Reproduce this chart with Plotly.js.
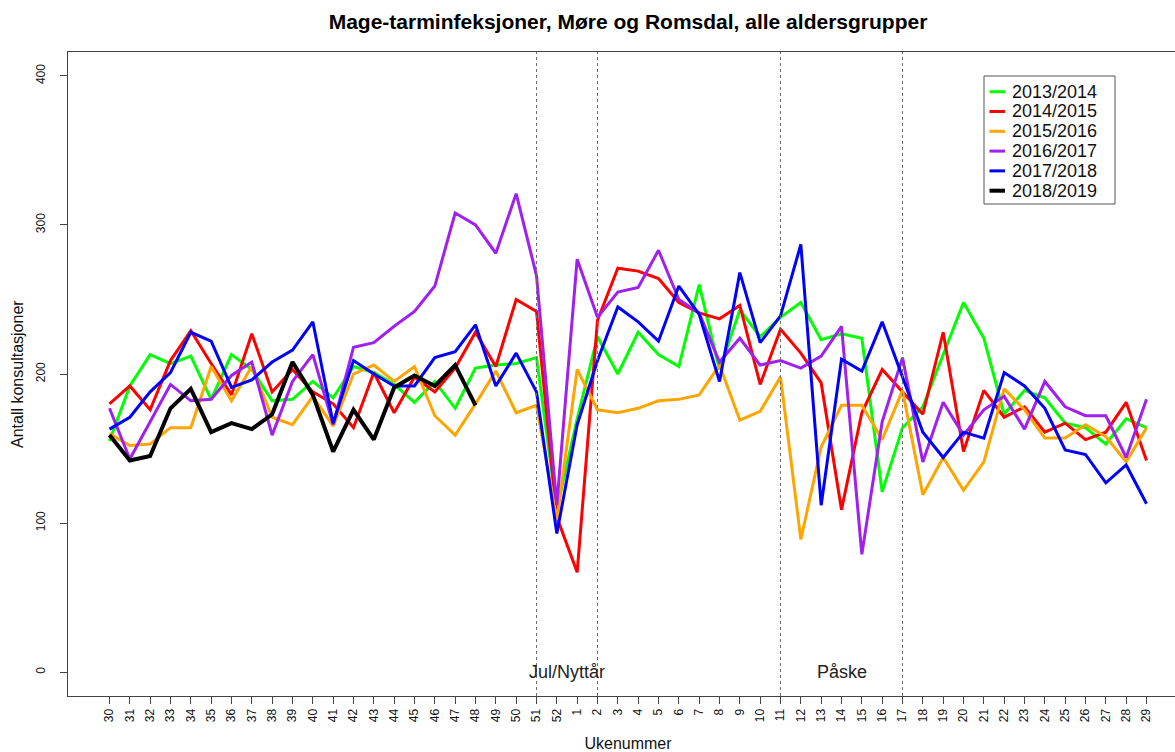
<!DOCTYPE html>
<html>
<head>
<meta charset="utf-8">
<script src="https://cdn.plot.ly/plotly-3.0.1.min.js"></script>
<style>
html, body { margin:0; padding:0; overflow:hidden; background:#fff; }
#chart { width:1200px; height:752px; }
</style>
</head>
<body>
<div id="chart"></div>
<script>
// Week labels (season runs from week 30 to week 29 next year)
const weeks = ["30","31","32","33","34","35","36","37","38","39","40","41","42","43","44","45","46","47","48","49","50","51","52",
               "1","2","3","4","5","6","7","8","9","10","11","12","13","14","15","16","17","18","19","20","21","22","23","24","25","26","27","28","29"];

const seasonNames = ["2013/2014","2014/2015","2015/2016","2016/2017","2017/2018","2018/2019"];
const seasonColors = ["#00FF00","#FF0000","#FFA500","#A020F0","#0000FF","#000000"];

const s2013 = [155,192,213,207,212,183,213,203,182,183,195,184,205,201,193,181,195,177,204,206,207,211,109,
               170,225,200,228,213,205,260,203,243,225,238,248,223,227,224,121,164,178,213,248,224,173,189,184,167,164,153,170,164];
const s2014 = [180,192,176,209,229,207,186,227,188,203,188,180,164,201,174,198,188,204,228,205,250,242,104,
               67,236,271,269,264,248,241,237,246,193,230,214,194,109,174,203,188,173,228,148,189,171,178,161,167,156,161,181,142];
const s2015 = [160,152,153,164,164,205,182,205,171,166,185,165,200,206,195,205,172,159,180,202,174,179,102,
               203,176,174,177,182,183,186,206,169,175,198,89,151,179,179,156,189,119,144,122,141,190,176,157,157,166,158,141,164];
const s2016 = [177,143,168,193,182,183,199,208,159,195,213,166,218,221,232,242,259,308,300,281,321,266,112,
               277,238,255,258,283,250,241,208,224,206,209,204,212,232,79,168,211,141,181,159,176,185,163,195,178,172,172,144,183];
const s2017 = [163,171,188,201,228,222,191,196,208,216,235,167,209,200,192,192,211,215,233,192,214,188,93,
               166,209,245,235,222,259,240,195,268,221,239,287,112,210,202,235,198,161,144,161,157,201,192,177,149,146,127,139,113];
const s2018 = [159,142,145,177,190,161,167,163,173,208,186,148,176,156,191,199,192,206,179];

const seasonValues = [s2013, s2014, s2015, s2016, s2017, s2018];
const lineWidths = [3,3,3,3,3,4];

// Holiday periods (dashed lines) and labels
const holidayWeeks = ["51","2","11","17"];
const holidayLabels = [{text:"Jul/Nyttår", from:"51", to:"2"}, {text:"Påske", from:"11", to:"17"}];
const yTicks = [0,100,200,300,400];

const FONT = "Liberation Sans, Arial, Helvetica, sans-serif";

const traces = seasonValues.map((vals, k) => ({
  type: "scatter",
  mode: "lines",
  x: weeks.slice(0, vals.length),
  y: vals,
  name: seasonNames[k],
  line: {color: seasonColors[k], width: lineWidths[k]},
  showlegend: false,
  hoverinfo: "skip"
}));

// geometry helpers for the hand-built legend (paper coords)
const L = 68, R = 12, T = 52, B = 56, W = 1200, H = 752;
const pw = W - L - R, ph = H - T - B;
const px = v => (v - L) / pw;
const py = v => (H - B - v) / ph;

const shapes = holidayWeeks.map(w => ({
  type: "line", xref: "x", yref: "paper",
  x0: weeks.indexOf(w), x1: weeks.indexOf(w), y0: 0, y1: 1,
  line: {color: "#6e6e6e", width: 1, dash: "3px,3px"},
  layer: "above"
}));

const annotations = holidayLabels.map(h => ({
  xref: "x", yref: "y",
  x: (weeks.indexOf(h.from) + weeks.indexOf(h.to)) / 2, y: 0,
  text: h.text, showarrow: false,
  font: {family: FONT, size: 18, color: "#222"},
  xanchor: "center", yanchor: "middle"
}));

// y-axis title
annotations.push({
  xref: "paper", yref: "paper", x: px(17), y: 0.5,
  text: "Antall konsultasjoner", textangle: -90, showarrow: false,
  xanchor: "center", yanchor: "middle",
  font: {family: FONT, size: 16, color: "#111"}
});

// legend box
shapes.push({
  type: "rect", xref: "paper", yref: "paper",
  x0: px(984), x1: px(1115), y0: py(204), y1: py(76),
  line: {color: "#555", width: 1}, fillcolor: "rgba(255,255,255,1)", layer: "above"
});
seasonNames.forEach((n, k) => {
  const yc = 91.7 + k * 19.8;
  shapes.push({
    type: "line", xref: "paper", yref: "paper",
    x0: px(989.5), x1: px(1005), y0: py(yc), y1: py(yc),
    line: {color: seasonColors[k], width: lineWidths[k]}, layer: "above"
  });
  annotations.push({
    xref: "paper", yref: "paper", x: px(1010), y: py(yc),
    text: n, showarrow: false, xanchor: "left", yanchor: "middle",
    font: {family: FONT, size: 18, color: "#111"}
  });
});

const layout = {
  width: W, height: H,
  margin: {l: L, r: R, t: T, b: B, pad: 0},
  paper_bgcolor: "#fff", plot_bgcolor: "#fff",
  font: {family: FONT, color: "#111"},
  title: {
    text: "<b>Mage-tarminfeksjoner, Møre og Romsdal, alle aldersgrupper</b>",
    font: {family: FONT, size: 21, color: "#000"},
    xref: "paper", x: 0.5, xanchor: "center",
    yref: "container", y: 1 - 22 / H, yanchor: "middle"
  },
  xaxis: {
    type: "category", categoryorder: "array", categoryarray: weeks,
    range: [-2.04, 53.04], autorange: false,
    tickmode: "array", tickvals: weeks, ticktext: weeks,
    tickangle: -90, ticks: "outside", ticklen: 7, tickcolor: "#444", tickwidth: 1,
    tickfont: {family: FONT, size: 12, color: "#111"},
    showline: true, linecolor: "#444", linewidth: 1, mirror: true,
    showgrid: false, zeroline: false, automargin: false,
    title: {text: "Ukenummer", font: {family: FONT, size: 16, color: "#111"}, standoff: 19}
  },
  yaxis: {
    range: [-16, 416], autorange: false,
    tickmode: "array", tickvals: yTicks, ticktext: yTicks.map(String),
    tickangle: -90, ticks: "outside", ticklen: 7, tickcolor: "#444", tickwidth: 1,
    ticklabelstandoff: 10,
    tickfont: {family: FONT, size: 12, color: "#111"},
    showline: true, linecolor: "#444", linewidth: 1, mirror: true,
    showgrid: false, zeroline: false, automargin: false
  },
  shapes: shapes,
  annotations: annotations,
  showlegend: false
};

Plotly.newPlot("chart", traces, layout, {staticPlot: true, displayModeBar: false});
</script>
</body>
</html>
